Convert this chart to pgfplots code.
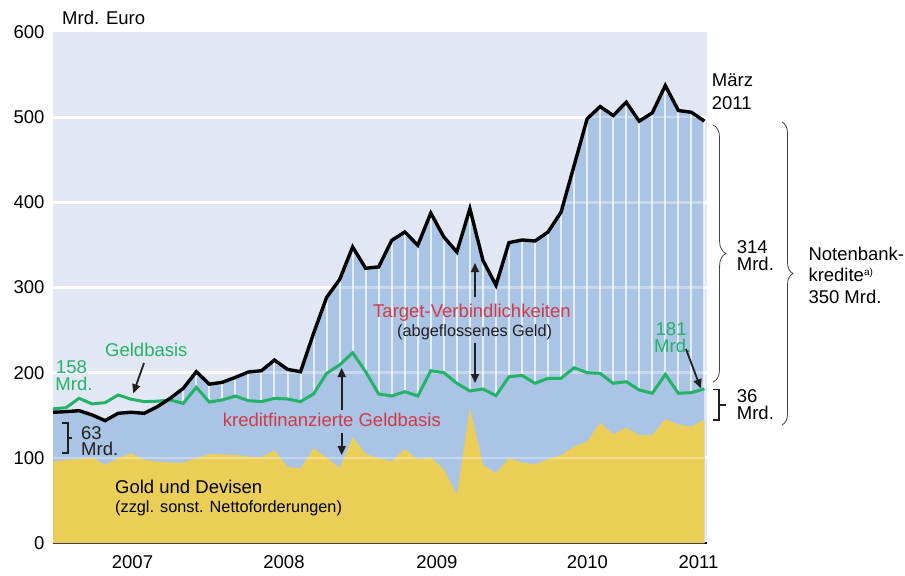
\documentclass[border=0pt]{standalone}
\usepackage{fontspec}
\setmainfont{Liberation Sans}
\usepackage{pgfplots}
\usepackage{pgfplotstable}
\pgfplotsset{compat=1.18}
\usetikzlibrary{decorations.pathreplacing, arrows.meta}
\definecolor{bgc}{HTML}{E1E8F4}
\definecolor{bluec}{HTML}{A9C4E4}
\definecolor{goldc}{HTML}{EACE58}
\definecolor{greenc}{HTML}{24B266}
\definecolor{redc}{HTML}{D03A46}
\definecolor{darkc}{HTML}{231F20}
\newcommand{\fa}{\fontsize{18.5bp}{22bp}\selectfont}
\newcommand{\fb}{\fontsize{16.3bp}{19bp}\selectfont}
\newcommand{\two}[3]{\vtop{\baselineskip=#3\lineskiplimit=-20bp\hbox{#1}\hbox{#2}}}

\pgfplotstableread{
m b g y
0 153.5 157.5 95.6
1 154.2 158.9 97.6
2 155.4 169.9 98.4
3 150.4 163.3 100.3
4 143.7 164.8 91.8
5 152.3 173.8 99.6
6 153.5 168.8 105.5
7 152.3 166.0 97.6
8 160.0 166.5 95.6
9 169.9 167.9 94.5
10 181.6 164.0 94.5
11 201.1 182.8 99.6
12 186.5 165.5 104.5
13 188.7 168.0 104.0
14 194.5 172.6 103.5
15 200.8 167.1 101.5
16 202.3 166.0 100.8
17 214.8 169.9 108.5
18 203.9 169.1 89.5
19 201.1 166.0 87.5
20 246.1 175.0 111.3
21 288.3 199.2 100.2
22 309.4 209.0 87.9
23 347.6 223.4 124.2
24 322.6 201.0 104.5
25 324.2 175.0 99.6
26 355.4 172.6 96.0
27 365.2 177.7 110.2
28 349.6 172.6 98.0
29 387.4 202.3 100.5
30 359.3 200.0 86.3
31 341.7 187.5 56.6
32 392.6 178.5 158.2
33 332.0 180.8 91.8
34 302.7 173.0 82.0
35 352.7 195.2 99.6
36 355.8 196.8 94.5
37 354.6 187.5 92.2
38 365.2 193.4 98.6
39 388.6 193.4 103.0
40 443.3 205.8 113.2
41 498.1 200.0 119.1
42 512.5 199.2 141.3
43 501.9 187.5 127.7
44 517.5 189.4 135.5
45 495.3 179.7 126.5
46 505.1 175.8 126.9
47 537.1 198.0 145.3
48 507.8 175.8 139.0
49 505.8 176.5 136.6
50 495.3 181.0 145.0
}\data

\begin{document}
\begin{tikzpicture}
\useasboundingbox (0,0) rectangle (905bp,-576bp);
\begin{axis}[
  at={(53bp,-543bp)}, anchor=south west,
  scale only axis, width=654bp, height=511bp,
  xmin=0, xmax=50.2, ymin=0, ymax=600,
  axis background/.style={fill=bgc},
  axis x line*=bottom, axis y line*=left,
  x axis line style={black, line width=2.5bp},
  y axis line style={draw=none},
  ytick={0,100,...,600},
  ytick style={draw=none},
  yticklabel style={font=\fa, xshift=-5bp},
  /pgf/number format/assume math mode=true,
  xtick={11.82,23.56,35.33,47.1}, xticklabels={},
  tick align=inside,
  major tick length=7bp,
  xtick style={black, line width=1.5bp},
  extra x ticks={6.1,17.73,29.47,41.02,49.54},
  extra x tick labels={2007,2008,2009,2010,2011},
  extra x tick style={major tick length=0pt},
  xticklabel style={font=\fa, yshift=-9bp},
  clip=true,
]
\pgfplotsinvokeforeach{100,200,300,400,500}{
  \addplot[white, line width=3bp] coordinates {(0,#1) (50.2,#1)};
}
\addplot[fill=bluec, draw=none] table[x=m,y=b]{\data} \closedcycle;
\addplot[ycomb, draw=white, opacity=0.7, line width=2bp] table[x=m,y=b]{\data};
\addplot[fill=bluec, draw=none] table[x=m, y expr={min(\thisrow{b},\thisrow{g})}]{\data} \closedcycle;
\addplot[fill=goldc, draw=none] table[x=m,y=y]{\data} \closedcycle;
\pgfplotsinvokeforeach{100,200,300,400,500}{
  \addplot[white, opacity=0.35, line width=2.5bp] coordinates {(0,#1) (50,#1)};
}
\addplot[greenc, line width=3bp, line join=miter] table[x=m,y=g]{\data};
\addplot[black, line width=3.4bp, line join=miter] table[x=m,y=b]{\data};
\end{axis}

\begin{scope}[x=1bp, y=-1bp]
\tikzset{txt/.style={anchor=base west, inner sep=0pt},
  arr/.style={darkc, line width=1.8bp, -{Triangle[length=9bp,width=8bp]}}}
\node[txt] at (62,24.3) {\fa Mrd. Euro};
\node[txt] at (711.7,86.7) {\fa\two{März}{2011}{23.3bp}};
% 314 / 36 / 350
\node[txt] at (736.7,253.3) {\fa\two{314}{Mrd.}{16.7bp}};
\node[txt] at (736.7,402.8) {\fa\two{36}{Mrd.}{16.8bp}};
\node[txt] at (808.3,260) {\fa\vtop{\baselineskip=21.5bp\hbox{Notenbank-}\hbox{kredite\textsuperscript{\fontsize{10bp}{10bp}\selectfont a)}}\hbox{350 Mrd.}}};
\draw[darkc!85, line width=0.8bp, decorate, decoration={brace, amplitude=12.5bp}] (713.3,125) -- (713.3,382);
\draw[darkc!85, line width=0.8bp, decorate, decoration={brace, amplitude=11bp}] (782,122) -- (782,425);
\draw[darkc, line width=1.6bp] (713.3,389.3) -- (719,389.3) -- (719,420) -- (713.3,420);
\draw[darkc, line width=1.6bp] (719,405) -- (726,405);
% 181
\node[txt, text=greenc] at (654,335.8) {\fa\two{\kern1.5bp 181}{Mrd.}{16.8bp}};
\draw[arr] (686,349) -- (700.7,388.3);
% 158
\node[txt, text=greenc] at (55.3,373.3) {\fa\two{\kern0.5bp 158}{Mrd.}{16.7bp}};
\node[txt, text=greenc] at (105,356.7) {\fa Geldbasis};
\draw[arr] (144,363) -- (133.3,393.3);
% 63
\node[txt, text=darkc] at (81,439) {\fa\two{63}{Mrd.}{16.8bp}};
\draw[darkc, line width=1.6bp] (61.7,423) -- (68,423) -- (68,453) -- (61.7,453);
\draw[darkc, line width=1.6bp] (68,438) -- (71.7,438);
% gold
\node[txt] at (115,493.3) {\fa Gold und Devisen};
\node[txt] at (115,512.5) {\fb (zzgl. sonst. Nettoforderungen)};
% kreditfinanzierte
\node[txt, text=redc] at (222.7,426.7) {\fa kreditfinanzierte Geldbasis};
\draw[arr] (341.7,410) -- (341.7,368);
\draw[arr] (341.7,433) -- (341.7,455);
% target
\node[txt, text=redc] at (373,317) {\fa Target-Verbindlichkeiten};
\node[txt, text=darkc] at (397,336.5) {\fb (abgeflossenes Geld)};
\draw[arr] (475,297) -- (475,263);
\draw[arr] (475,343) -- (475,383);
\end{scope}
\end{tikzpicture}
\end{document}
